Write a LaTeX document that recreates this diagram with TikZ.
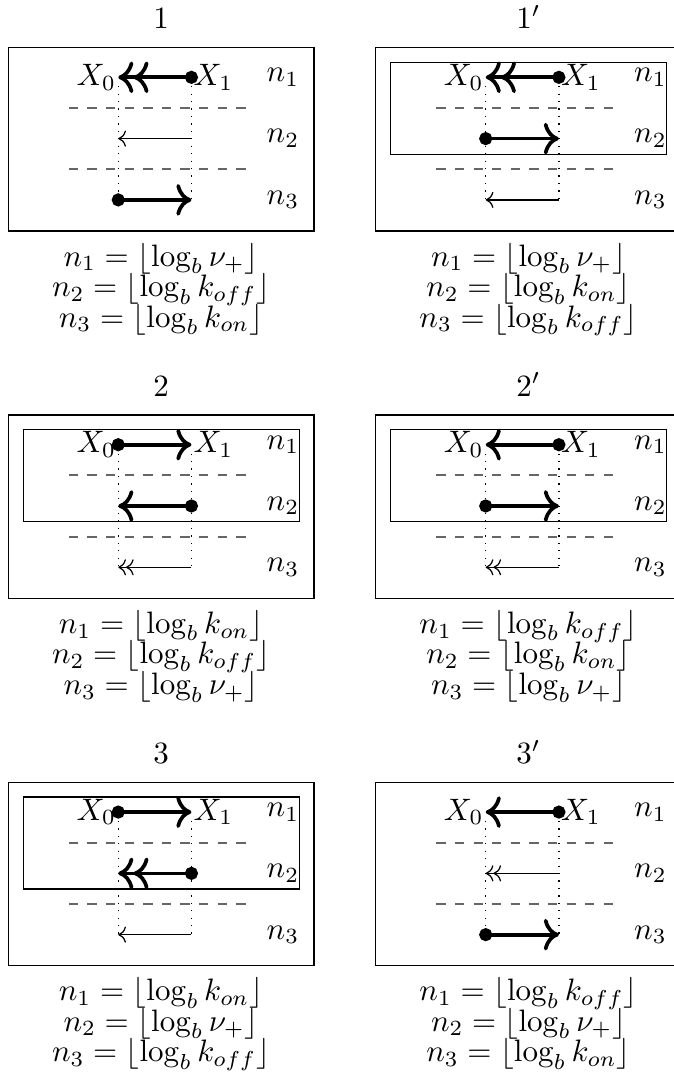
\documentclass[tikz,border=0pt]{standalone}
\usetikzlibrary{arrows.meta,positioning}

% frame of one case: name, place of X_0 on level n_1, title
\newcommand{\panel}[3]{
  \begin{scope}[shift={#2}]
    \coordinate (#1-a1) at (0,0);
    \coordinate (#1-b1) at (0.83,0);
    \coordinate (#1-a2) at (0,-0.695);
    \coordinate (#1-b2) at (0.83,-0.695);
    \coordinate (#1-a3) at (0,-1.39);
    \coordinate (#1-b3) at (0.83,-1.39);
    \coordinate (#1-c) at (0.485,-1.743);
    \draw (-1.247,0.336) rectangle (2.219,-1.743);
    \node[anchor=base] (#1-t) at (0.485,0.55) {$#3$};
    \draw[level] (-0.56,-0.3475) -- (1.53,-0.3475);
    \draw[level] (-0.56,-1.0425) -- (1.53,-1.0425);
    \draw[guide] ([yshift=-0.1cm]#1-a1) -- (#1-a3);
    \draw[guide] ([yshift=-0.1cm]#1-b1) -- (#1-b3);
    \node[tag,anchor=east] (#1-x0) at (#1-a1) {$X_0$};
    \node[tag,anchor=west] (#1-x1) at (#1-b1) {$X_1$};
    \node (#1-n1) [right=1.868 of #1-a1,anchor=center] {$n_1$};
    \node (#1-n2) [right=1.868 of #1-a2,anchor=center] {$n_2$};
    \node (#1-n3) [right=1.868 of #1-a3,anchor=center] {$n_3$};
  \end{scope}
}
% box round the levels n_1 and n_2
\newcommand{\band}[1]{
  \draw ([shift={(-1.077,0.17)}]#1-a1) rectangle ([shift={(2.052,-0.873)}]#1-a1);
}
% the three levels under a case
\newcommand{\rates}[4]{
  \node[anchor=base] (#1-f1) at ([yshift=-0.397cm]#1-c) {$n_1 = \left\lfloor \log_b #2 \right\rfloor$};
  \node[anchor=base] (#1-f2) at ([yshift=-0.743cm]#1-c) {$n_2 = \left\lfloor \log_b #3 \right\rfloor$};
  \node[anchor=base] (#1-f3) at ([yshift=-1.089cm]#1-c) {$n_3 = \left\lfloor \log_b #4 \right\rfloor$};
}

\begin{document}
\begin{tikzpicture}[node distance=1cm,on grid,
    level/.style={dashed,black!60,semithick},
    guide/.style={dotted},
    tag/.style={inner sep=0.5pt},
    heavy/.style={very thick,shorten <=-2.1pt,
      {Circle[length=4.2pt]}-{Computer Modern Rightarrow[scale=1.15]}},
    heavy2/.style={very thick,shorten <=-2.1pt,
      {Circle[length=4.2pt]}-{Computer Modern Rightarrow[scale=1.15]Computer Modern Rightarrow[scale=1.15]}},
    light/.style={->},
    light2/.style={->>}]
  \useasboundingbox (-1.341,0.877) rectangle (6.301,-11.325);

  \panel{p1}{(0,0)}{1}
  \path (p1-b1) edge[heavy2] (p1-a1)
        (p1-b2) edge[light] (p1-a2)
        (p1-a3) edge[heavy] (p1-b3);
  \rates{p1}{\nu_+}{k_{off}}{k_{on}}

  \panel{q1}{(4.167,0)}{1'}
  \band{q1}
  \path (q1-b1) edge[heavy2] (q1-a1)
        (q1-a2) edge[heavy] (q1-b2)
        (q1-b3) edge[light] (q1-a3);
  \rates{q1}{\nu_+}{k_{on}}{k_{off}}

  \panel{p2}{(0,-4.166)}{2}
  \band{p2}
  \path (p2-a1) edge[heavy] (p2-b1)
        (p2-b2) edge[heavy] (p2-a2)
        (p2-b3) edge[light2] (p2-a3);
  \rates{p2}{k_{on}}{k_{off}}{\nu_+}

  \panel{q2}{(4.167,-4.166)}{2'}
  \band{q2}
  \path (q2-b1) edge[heavy] (q2-a1)
        (q2-a2) edge[heavy] (q2-b2)
        (q2-b3) edge[light2] (q2-a3);
  \rates{q2}{k_{off}}{k_{on}}{\nu_+}

  \panel{p3}{(0,-8.332)}{3}
  \band{p3}
  \path (p3-a1) edge[heavy] (p3-b1)
        (p3-b2) edge[heavy2] (p3-a2)
        (p3-b3) edge[light] (p3-a3);
  \rates{p3}{k_{on}}{\nu_+}{k_{off}}

  \panel{q3}{(4.167,-8.332)}{3'}
  \path (q3-b1) edge[heavy] (q3-a1)
        (q3-b2) edge[light2] (q3-a2)
        (q3-a3) edge[heavy] (q3-b3);
  \rates{q3}{k_{off}}{\nu_+}{k_{on}}
\end{tikzpicture}
\end{document}
